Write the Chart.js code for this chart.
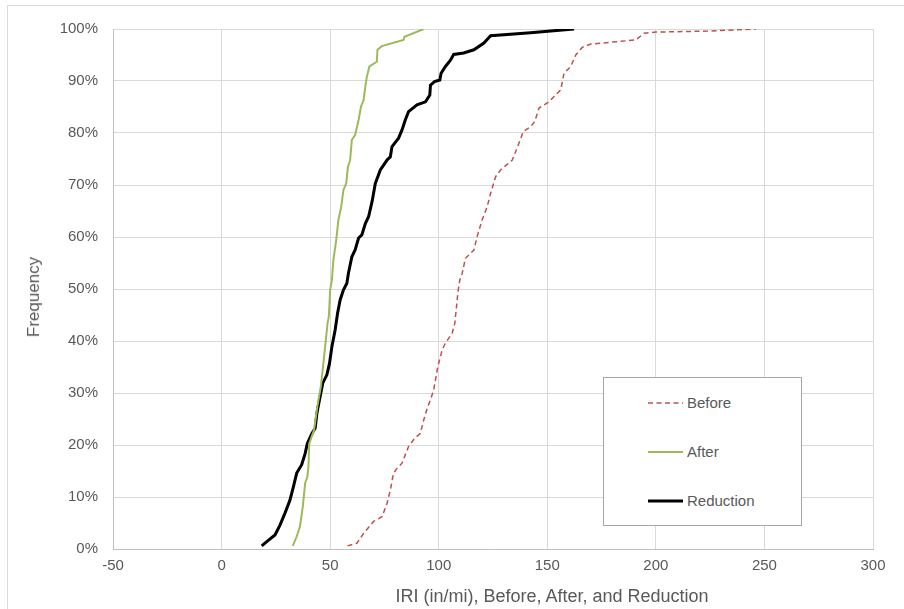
<!DOCTYPE html>
<html>
<head>
<meta charset="utf-8">
<script src="https://cdn.jsdelivr.net/npm/chart.js@4"></script>
<style>
  html, body { margin: 0; padding: 0; background: #fff; }
  #wrap { position: relative; width: 904px; height: 609px; overflow: hidden; font-family: "Liberation Sans", Arial, sans-serif; }
  #frame { position: absolute; left: 7px; top: 5px; width: 1000px; height: 1000px; border: 1px solid #d9d9d9; }
  canvas { position: absolute; left: 0; top: 0; }
  .title { position: absolute; color: #595959; white-space: nowrap; }
  #xtitle { left: 552px; top: 596px; font-size: 18px; transform: translate(-50%, -50%); }
  #ytitle { left: 34px; top: 297px; font-size: 17px; transform: translate(-50%, -50%) rotate(-90deg); }
  #legend { position: absolute; left: 603px; top: 377px; width: 197px; height: 147px; border: 1px solid #a6a6a6; background: #fff; }
  .item { position: absolute; left: 44px; height: 18px; color: #595959; font-size: 15px; line-height: 18px; }
  .item svg { position: absolute; left: 0; top: 0; }
  .item span { position: absolute; left: 39px; top: 0; }
</style>
</head>
<body>
<div id="wrap">
  <div id="frame"></div>
  <canvas id="c" width="904" height="609"></canvas>
  <div class="title" id="xtitle">IRI (in/mi), Before, After, and Reduction</div>
  <div class="title" id="ytitle">Frequency</div>
  <div id="legend"></div>
</div>
<script>
// ---- data ----
const seriesNames = ['Before', 'After', 'Reduction'];

const beforeX = [58.0,62.3,65.4,70.0,73.9,76.2,77.7,79.2,80.8,83.1,86.1,88.9,91.5,93.1,94.7,96.2,97.7,98.5,99.6,101.6,103.1,106.2,107.4,108.2,108.8,109.7,110.8,112.3,116.2,117.7,120.0,122.3,123.9,126.2,128.5,133.9,135.4,136.9,139.0,142.3,144.2,146.2,150.8,153.1,156.2,157.7,160.8,163.1,166.2,170.0,190.8,194.6,200.0,223.9,246.2];
const beforeY = [0.6,1.1,3.0,5.3,6.2,8.8,11.3,14.6,15.5,16.5,19.7,21.3,22.2,24.8,27.1,28.7,30.6,32.5,35.1,38.3,39.6,41.5,43.4,46.6,49.2,51.7,53.0,55.9,57.5,60.1,63.3,65.8,68.4,71.6,72.9,74.8,76.4,78.0,80.3,81.2,82.2,84.8,86.0,87.0,88.3,91.5,92.8,95.0,96.5,97.1,97.9,99.2,99.4,99.6,100];

const afterX = [32.8,34.6,36.1,37.4,37.7,38.5,39.5,40.0,40.4,42.6,44.1,45.7,46.9,47.7,48.8,49.4,50.0,50.8,51.5,52.8,53.8,55.1,56.1,57.4,58.2,59.2,60.0,61.5,63.1,64.2,65.4,66.2,66.9,68.1,71.5,71.8,73.8,83.8,84.2,93.1];
const afterY = [0.6,2.4,4.3,8.1,9.4,12.7,13.9,15.8,20.3,22.9,27.4,31.2,35.7,38.9,43.4,44.7,49.8,51.7,55.6,59.4,63.3,65.8,69.0,70.3,73.5,74.8,78.7,79.6,82.5,85.1,86.3,88.9,90.8,92.8,93.7,96.0,96.7,97.9,98.5,100];

const reductionX = [18.5,20.8,24.6,26.9,29.2,31.5,33.1,34.6,36.9,38.5,39.5,41.6,43.1,43.9,45.1,46.6,48.5,49.7,50.8,52.3,53.4,54.6,56.1,57.7,58.4,60.0,61.5,63.1,64.6,66.2,67.7,69.3,70.8,73.1,76.2,77.7,78.5,81.5,83.1,84.6,86.1,90.0,93.9,95.9,96.2,98.1,100.5,101.1,103.1,105.4,106.9,111.5,116.2,120.8,123.9,142.3,162.3];
const reductionY = [0.6,1.4,2.7,4.6,6.9,9.4,12.0,14.6,16.2,18.4,20.3,22.2,23.2,26.1,28.7,31.9,33.5,35.7,38.9,42.1,45.3,47.9,49.8,51.1,53.0,56.2,57.5,59.8,60.4,62.6,63.9,66.8,70.3,72.9,74.8,75.4,77.4,79.0,80.6,82.5,84.1,85.4,86.0,87.3,89.2,89.9,90.2,91.5,92.8,94.0,95.1,95.4,96.0,97.3,98.7,99.3,100];

const xTickValues = [-50,0,50,100,150,200,250,300];
const yTickValues = [0,10,20,30,40,50,60,70,80,90,100];
const yTickLabels = ['0%','10%','20%','30%','40%','50%','60%','70%','80%','90%','100%'];

// ---- styles ----
const styles = [
  { color: '#c0504d', width: 1.5, dash: [5, 3.5] },
  { color: '#9bbb59', width: 2, dash: [] },
  { color: '#000000', width: 3, dash: [] }
];

function pts(xs, ys) { return xs.map((x, i) => ({ x: x, y: ys[i] })); }
const allData = [pts(beforeX, beforeY), pts(afterX, afterY), pts(reductionX, reductionY)];

const datasets = allData.map((d, i) => ({
  label: seriesNames[i],
  data: d,
  showLine: true,
  borderColor: styles[i].color,
  backgroundColor: styles[i].color,
  borderWidth: styles[i].width,
  borderDash: styles[i].dash,
  pointRadius: 0,
  tension: 0,
  fill: false
}));

const tickFont = { family: '"Liberation Sans", Arial, sans-serif', size: 15 };

new Chart(document.getElementById('c'), {
  type: 'scatter',
  data: { datasets: datasets },
  options: {
    responsive: false,
    animation: false,
    layout: { padding: { left: 0, right: 31, top: 29, bottom: 0 } },
    plugins: { legend: { display: false }, tooltip: { enabled: false } },
    scales: {
      x: {
        type: 'linear',
        min: -50, max: 300,
        afterBuildTicks: s => { s.ticks = xTickValues.map(v => ({ value: v })); },
        afterFit: s => { s.height = 60; },
        ticks: { color: '#595959', font: tickFont, padding: 8, maxRotation: 0, callback: v => String(v) },
        grid: { color: '#d9d9d9', lineWidth: 1, drawTicks: false },
        border: { color: '#bfbfbf', width: 1 }
      },
      y: {
        type: 'linear',
        min: 0, max: 100,
        afterBuildTicks: s => { s.ticks = yTickValues.map(v => ({ value: v })); },
        afterFit: s => { s.width = 113; },
        ticks: { color: '#595959', font: tickFont, padding: 15,
                 callback: (v) => yTickLabels[yTickValues.indexOf(v)] },
        grid: { color: '#d9d9d9', lineWidth: 1, drawTicks: false },
        border: { color: '#bfbfbf', width: 1 }
      }
    }
  }
});

// ---- legend (inside plot area, as in reference) ----
const legend = document.getElementById('legend');
const itemTops = [16, 65, 114];
seriesNames.forEach((name, i) => {
  const div = document.createElement('div');
  div.className = 'item';
  div.style.top = itemTops[i] + 'px';
  const st = styles[i];
  div.innerHTML = '<svg width="36" height="18"><line x1="0" y1="9" x2="35" y2="9" stroke="' + st.color +
    '" stroke-width="' + st.width + '"' + (st.dash.length ? ' stroke-dasharray="' + st.dash.join(' ') + '"' : '') +
    '/></svg><span>' + name + '</span>';
  legend.appendChild(div);
});
</script>
</body>
</html>
